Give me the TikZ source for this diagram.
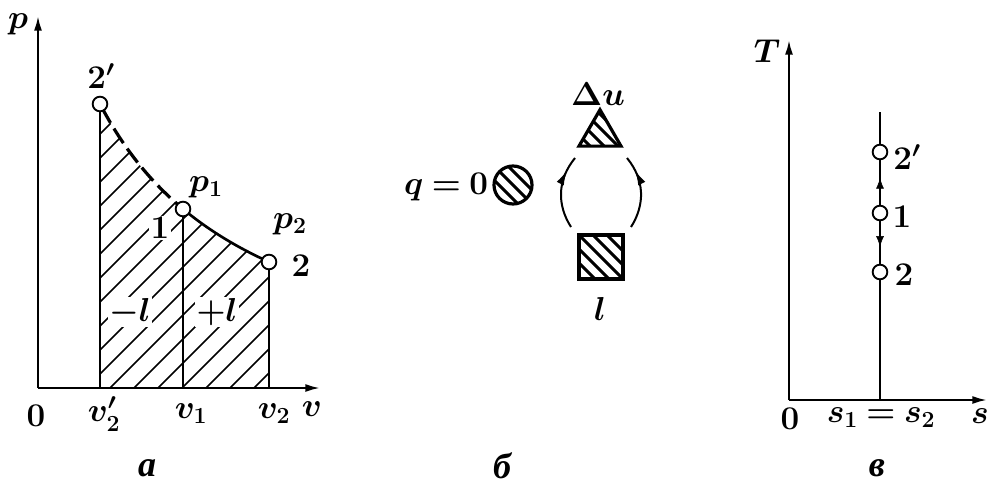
\documentclass[tikz,border=0pt]{standalone}
\usepackage{fontspec}
\setmainfont{Liberation Serif}
\usetikzlibrary{arrows.meta,decorations.markings,shapes.geometric}
\begin{document}
\begin{tikzpicture}[x=0.75pt,y=-0.75pt,
  lbl/.style={font=\fontsize{25}{29}\selectfont\boldmath, inner sep=0pt},
  inlbl/.style={lbl, fill=white, inner sep=1pt},
  captxt/.style={font=\fontsize{27}{30}\selectfont\itshape\bfseries, inner sep=0pt},
  axisline/.style={line width=1.6pt, -{Latex[length=11pt,width=6pt]}},
  edge/.style={line width=1.7pt},
  statept/.style={circle, draw, fill=white, line width=1.4pt, minimum size=11pt, inner sep=0pt},
  hatchline/.style={line width=1.1pt},
  hatchfill/.style={path picture={\foreach \k in {-4,...,4}{\draw[line width=2.2pt] ([shift={(\k*14,0)}]path picture bounding box.center) ++(-40,-40) -- ++(80,80);}}},
  hcirc/.style={circle, draw, line width=2.4pt, minimum size=28.5pt, inner sep=0pt, hatchfill},
  htri/.style={regular polygon, regular polygon sides=3, draw, line width=2.4pt, minimum size=36.4pt, inner sep=0pt, hatchfill},
  hsq/.style={rectangle, draw, line width=2.6pt, minimum size=33pt, inner sep=0pt, hatchfill},
  arcarrow/.style={line width=1.5pt, postaction={decorate}, decoration={markings, mark=at position 0.8 with {\arrow{Latex[length=11pt,width=6pt]}}}},
  midarrow/.style={decoration={markings, mark=at position 0.6 with {\arrow{Latex[length=8pt,width=6pt]}}}, postaction={decorate}}
]
\useasboundingbox (0,0) rectangle (988,489);

% ---------- panel a ----------
\coordinate (Oa) at (38,388);
\coordinate (pTop) at (38,16);
\coordinate (vEnd) at (320,388);
\draw[axisline] (Oa) -- (pTop);
\draw[axisline] (Oa) -- (vEnd);

\begin{scope}
\clip (100,388) -- (100,104) -- plot[domain=100:269,samples=60] (\x,{412-494.41/(\x+60.5)*100}) -- (269,388) -- cycle;
\foreach \k in {-13,...,8} \draw[hatchline] (110+24*\k,388) -- ++(320,-320);
\end{scope}

\draw[line width=2.4pt, dash pattern=on 13pt off 5pt] plot[domain=102:183,samples=40] (\x,{412-494.41/(\x+60.5)*100});
\draw[line width=2pt] plot[domain=183:269,samples=40] (\x,{412-494.41/(\x+60.5)*100});

\node[statept] (A2p) at (100,104) {};
\node[statept] (A1) at (183,209) {};
\node[statept] (A2) at (269,262) {};
\draw[edge] (A2p.south) -- (A2p |- Oa);
\draw[edge] (A1.south) -- (A1 |- Oa);
\draw[edge] (A2.south) -- (A2 |- Oa);

\node[lbl] (lp) at (18,24) {$p$};
\node[lbl] (l0a) at (36,416) {$0$};
\node[lbl] (lv2p) at (104,414) {$v'_2$};
\node[lbl] (lv1) at (191,414) {$v_1$};
\node[lbl] (lv2) at (274,414) {$v_2$};
\node[lbl] (lv) at (312,409) {$v$};
\node[lbl] (l2p) at (101,76) {$2'$};
\node[lbl] (lp1) at (206,187) {$p_1$};
\node[lbl] (lp2) at (290,224) {$p_2$};
\node[lbl] (l2) at (301,266) {$2$};
\node[inlbl] (l1) at (160,228) {$1$};
\node[inlbl] (lml) at (130,312) {$-l$};
\node[inlbl] (lpl) at (217,312) {$+l$};
\node[captxt] (capa) at (147,468) {а};

% ---------- panel b ----------
\node[lbl] (lq) at (446,187) {$q\mkern4mu{=}\mkern4mu0$};
\node[hcirc] (heat) at (513,185) {};
\node[htri] (du) at (600,134) {};
\node[hsq] (work) at (601,257) {};
\node[lbl] (ldu) at (598,94) {$\Delta u$};
\node[lbl] (ll) at (600,309) {$l$};
\coordinate (la) at (571,227); \coordinate (lb) at (575,158);
\coordinate (ra) at (631,227); \coordinate (rb) at (627,158);
\draw[arcarrow] (la) .. controls (557,205) and (557,180) .. (lb);
\draw[arcarrow] (ra) .. controls (645,205) and (645,180) .. (rb);
\node[captxt] (capb) at (502,466) {б};

% ---------- panel c ----------
\coordinate (Oc) at (789,400);
\coordinate (TTop) at (789,40);
\coordinate (sEnd) at (987,400);
\draw[axisline] (Oc) -- (TTop);
\draw[axisline] (Oc) -- (sEnd);
\coordinate (ctop) at (880,112);
\coordinate (cbot) at (880,400);
\draw[edge] (ctop) -- (cbot);
\node[statept] (B2p) at (880,152) {};
\node[statept] (B1) at (880,213) {};
\node[statept] (B2) at (880,272) {};
\path[midarrow] (B1) -- (B2p);
\path[midarrow] (B1) -- (B2);

\node[lbl] (lT) at (767,51) {$T$};
\node[lbl] (l2pc) at (907,157) {$2'$};
\node[lbl] (l1c) at (902,217) {$1$};
\node[lbl] (l2c) at (904,275) {$2$};
\node[lbl] (l0c) at (790,419) {$0$};
\node[lbl] (ls12) at (881,418) {$s_1\mkern4mu{=}\mkern4mu s_2$};
\node[lbl] (ls) at (980,416) {$s$};
\node[captxt] (capc) at (877,468) {в};
\end{tikzpicture}
\end{document}
